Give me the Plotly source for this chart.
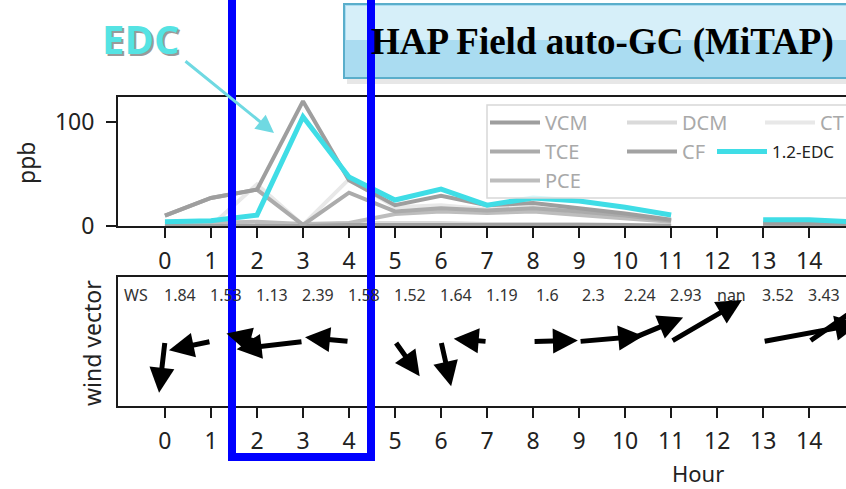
import plotly.graph_objects as go

W, H = 846, 489

# ---------------- data ----------------
hours = list(range(16))
vcm = [10, 27, 35, 120, 44, 20, 29, 20, 22, 17, 12, 6, None, 3, 2, 2]
tce = [10, 27, 35, 1, 32, 14, 17, 15, 17, 14, 10, 5, None, 2, 1, 1]
pce = [2, 3, 4, 2, 3, 11.5, 14, 12.5, 14, 10.6, 7.7, 4, None, 1, 1, 1]
dcm = [0, 0, 0, 0, 3, 3, 3, 2, 2, 2, 1, 1, None, 0, 0, 0]
cf = [0, 0, 0, 0, 1, 1, 1, 1, 1, 1, 1, 0, None, 0, 0, 0]
ct = [0, 0, 40, 1, 45, 18, 20, 16, 18, 14, 10, 5, None, 1, 1, 1]
edc = [4, 5, 10.5, 105, 47, 25, 35.5, 20, 27, 24, 18, 10.5, None, 6, 6, 4]

wind_hours = list(range(15))
ws_labels = ['1.84', '1.53', '1.13', '2.39', '1.58', '1.52', '1.64', '1.19',
             '1.6', '2.3', '2.24', '2.93', 'nan', '3.52', '3.43']
wind_u = [-0.21, -1.50, -1.09, -2.37, -1.57, 0.88, 0.36, -1.19, 1.60, 2.29,
          2.07, 2.53, None, 3.46, 2.81]
wind_v = [-1.83, -0.31, 0.29, -0.28, 0.15, -1.24, -1.60, 0.10, 0.04, 0.20,
          0.86, 1.48, None, 0.64, 1.96]

hour_ticks = list(range(15))
ppb_ticks = [0, 100]

# ---------------- helpers ----------------
def px(x):
    return x / W


def py(y):
    return 1 - y / H


FONT = "Noto Sans"
fig = go.Figure()

series = [
    ("CT", ct, "#e8e8e8", 4, "legend3", 1),
    ("DCM", dcm, "#dadada", 4, "legend2", 1),
    ("PCE", pce, "#bdbdbd", 4, "legend", 3),
    ("CF", cf, "#a2a2a2", 4, "legend2", 2),
    ("TCE", tce, "#ababab", 4, "legend", 2),
    ("VCM", vcm, "#9e9e9e", 4, "legend", 1),
    ("1.2-EDC", edc, "#3fdde6", 5, "legend4", 1),
]
for name, vals, col, w, leg, rank in series:
    fig.add_trace(go.Scatter(
        x=hours, y=vals, mode="lines", name=name,
        line=dict(color=col, width=w), legend=leg, legendrank=rank,
        xaxis="x", yaxis="y", connectgaps=False, cliponaxis=True))

axis_common = dict(
    showline=True, linecolor="#1a1a1a", linewidth=2, showgrid=False,
    zeroline=False, ticks="outside", ticklen=10, tickwidth=2, automargin=False,
    tickcolor="#1a1a1a", tickfont=dict(family=FONT, size=23, color="#222"),
)

fig.update_layout(
    template="none",
    width=W, height=H,
    margin=dict(l=0, r=0, t=0, b=0, pad=0, autoexpand=False),
    paper_bgcolor="white", plot_bgcolor="white",
    xaxis=dict(domain=[px(118), 1], range=[-1.02, 14.80], tickvals=hour_ticks,
               anchor="y", mirror=True, ticklabelstandoff=3, **axis_common),
    yaxis=dict(domain=[py(226), py(97)], range=[0, 124], tickvals=ppb_ticks,
               anchor="x", ticklabelstandoff=7, **axis_common),
    xaxis2=dict(domain=[px(118), 1], range=[-1.02, 14.80], tickvals=hour_ticks,
                anchor="y2", mirror=True, ticklabelstandoff=3, **axis_common),
    yaxis2=dict(domain=[py(406), py(277)], range=[-1, 1], anchor="x2",
                showline=True, linecolor="#1a1a1a", linewidth=2, automargin=False,
                showgrid=False, zeroline=False, showticklabels=False, ticks=""),
    showlegend=True,
)

leg_common = dict(orientation="v", xanchor="left", yanchor="top",
                  bgcolor="rgba(0,0,0,0)", borderwidth=0, itemwidth=50,
                  font=dict(family=FONT, size=20, color="#a9a9a9"),
                  tracegroupgap=0)
fig.update_layout(
    legend=dict(x=px(485), y=py(103), **leg_common),
    legend2=dict(x=px(622), y=py(103), **leg_common),
    legend3=dict(x=px(760), y=py(103), **leg_common),
    legend4=dict(x=px(712), y=py(134), orientation="v", xanchor="left",
                 yanchor="top", bgcolor="rgba(0,0,0,0)", borderwidth=0,
                 itemwidth=50, font=dict(family=FONT, size=17, color="#222")),
)

shapes = []
# legend frame (semi-transparent like matplotlib legend)
shapes.append(dict(type="rect", xref="paper", yref="paper",
                   x0=px(487), x1=px(870), y0=py(105), y1=py(198),
                   line=dict(color="#d8d8d8", width=1.5),
                   fillcolor="rgba(255,255,255,0.8)", layer="above"))
# title box shadow
shapes.append(dict(type="rect", xref="paper", yref="paper",
                   x0=px(347), x1=px(880), y0=py(8), y1=py(84),
                   line=dict(width=0), fillcolor="rgba(120,120,120,0.18)",
                   layer="above"))
# title box
shapes.append(dict(type="rect", xref="paper", yref="paper",
                   x0=px(344), x1=px(880), y0=py(4), y1=py(78),
                   line=dict(color="#5aaecb", width=2),
                   fillcolor="#aadcf1", layer="above"))
shapes.append(dict(type="rect", xref="paper", yref="paper",
                   x0=px(346), x1=px(880), y0=py(6), y1=py(40),
                   line=dict(width=0), fillcolor="#d6eff9", layer="above"))
# blue highlight frame
shapes.append(dict(type="path", xref="paper", yref="paper",
                   path=f"M {px(232)},{py(-20)} L {px(232)},{py(457)} "
                        f"L {px(371)},{py(457)} L {px(371)},{py(-20)}",
                   line=dict(color="#0000ff", width=8), layer="above"))
fig.update_layout(shapes=shapes)

ann = []
C = dict(xanchor="center", yanchor="middle", showarrow=False)
# axis titles
ann.append(dict(text="ppb", xref="paper", yref="paper", x=px(26), y=py(163),
                textangle=-90, font=dict(family=FONT, size=23, color="#222"), **C))
ann.append(dict(text="wind vector", xref="paper", yref="paper", x=px(92),
                y=py(343), textangle=-90,
                font=dict(family=FONT, size=23, color="#222"), **C))
ann.append(dict(text="Hour", xref="paper", yref="paper", x=px(698), y=py(473),
                font=dict(family=FONT, size=22, color="#222"), **C))

# wind speed labels
ann.append(dict(text="WS", xref="x2", yref="paper", x=-0.63, y=py(295),
                font=dict(family=FONT, size=16, color="#333"), **C))
for h, lab in zip(wind_hours, ws_labels):
    ann.append(dict(text=lab, xref="x2", yref="paper", x=h + 0.32, y=py(295),
                    font=dict(family=FONT, size=16, color="#333"), **C))

# wind arrows (quiver-like)
SX = 28 / 46      # hours per m/s
SY = 28 / 64.5    # y-units per m/s
for h, u, v in zip(wind_hours, wind_u, wind_v):
    if u is None or v is None:
        continue
    ann.append(dict(text="", xref="x2", yref="y2", axref="x2", ayref="y2",
                    x=h + u * SX, y=v * SY, ax=h, ay=0, showarrow=True,
                    arrowhead=2, arrowsize=1.0, arrowwidth=5,
                    arrowcolor="black", standoff=0))

# title text
ann.append(dict(text="<b>HAP Field auto-GC (MiTAP)</b>", xref="paper",
                yref="paper", x=px(602), y=py(42),
                font=dict(family="Liberation Serif", size=37, color="black"), **C))
# EDC callout (shadow + text)
ann.append(dict(text="<b>EDC</b>", xref="paper", yref="paper", x=px(143),
                y=py(40), font=dict(family="Open Sans", size=40, color="#9a9a9a"), **C))
ann.append(dict(text="<b>EDC</b>", xref="paper", yref="paper", x=px(141),
                y=py(38), font=dict(family="Open Sans", size=40, color="#55e3e3"), **C))
ann.append(dict(text="", xref="paper", yref="paper", x=px(274), y=py(133),
                ax=-90, ay=-73, showarrow=True, arrowhead=2, arrowsize=1.2,
                arrowwidth=3, arrowcolor="#6fd9e2", standoff=0))
fig.update_layout(annotations=ann)

fig.write_html("out.html",
               config={"displayModeBar": False},
               post_script="document.body.style.margin='0';"
                           "document.body.style.overflow='hidden';")
